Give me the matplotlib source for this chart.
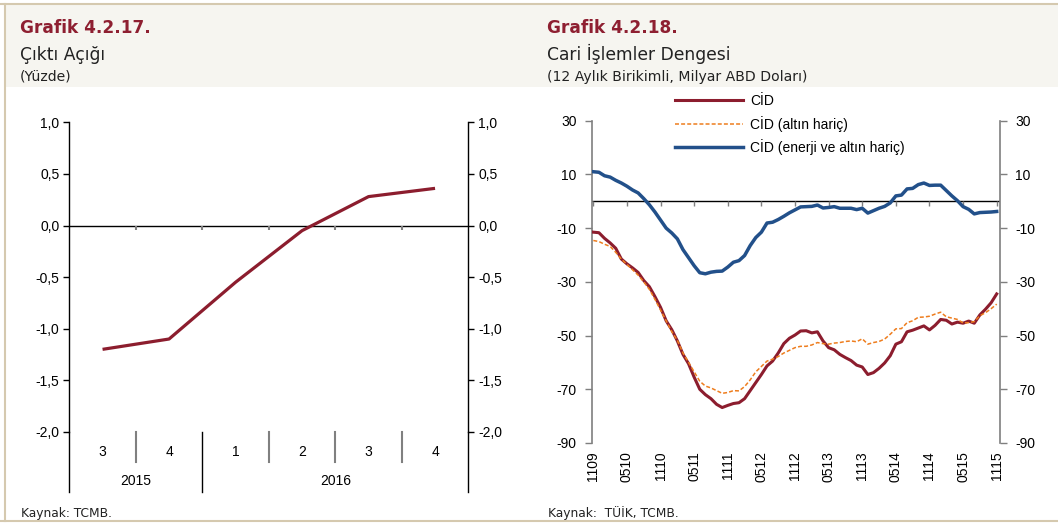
import numpy as np
import matplotlib
matplotlib.use('Agg')
import matplotlib.pyplot as plt
import matplotlib.transforms as mtransforms
from matplotlib.patches import Rectangle
from matplotlib.lines import Line2D

# --- data -------------------------------------------------------------
quarters = ['3', '4', '1', '2', '3', '4']
years = ['2015', '2016']
year_spans = [(0, 1), (2, 5)]
output_gap = [-1.2, -1.1, -0.55, -0.05, 0.28, 0.36]

month_labels = ['1109', '0510', '1110', '0511', '1111', '0512', '1112',
                '0513', '1113', '0514', '1114', '0515', '1115']

cid = [-11.5, -11.7, -13.8, -15.5, -17.5, -21.5, -23.3, -24.8, -26.5, -29.5,
       -31.8, -35.5, -39.5, -44.5, -47.8, -52.0, -57.0, -60.5, -65.5, -70.0,
       -72.0, -73.5, -75.6, -76.8, -76.0, -75.3, -75.0, -73.5, -70.5, -67.5,
       -64.5, -61.3, -59.5, -56.5, -53.0, -51.0, -49.8, -48.3, -48.2, -49.0,
       -48.6, -52.0, -54.5, -55.3, -57.0, -58.2, -59.3, -61.0, -61.7, -64.5,
       -63.8, -62.2, -60.2, -57.5, -53.2, -52.3, -48.6, -48.0, -47.2, -46.4,
       -47.9, -46.2, -44.0, -44.3, -45.7, -45.0, -45.4, -44.6, -45.4, -42.3,
       -40.2, -37.8, -34.5]

cid_altin = [-14.6, -15.0, -16.0, -16.8, -19.0, -21.5, -23.5, -25.5, -27.5, -30.0,
             -32.8, -36.5, -40.5, -44.5, -48.5, -51.8, -56.5, -60.0, -63.5, -67.0,
             -68.8, -69.5, -70.5, -71.5, -71.2, -70.5, -70.6, -69.0, -66.5, -63.5,
             -61.5, -59.5, -58.8, -57.8, -56.5, -55.5, -54.5, -54.0, -54.0, -53.5,
             -52.6, -53.0, -53.2, -52.8, -52.6, -52.2, -52.0, -52.3, -51.2, -53.2,
             -52.6, -52.2, -51.3, -49.5, -47.5, -47.4, -45.2, -44.5, -43.2, -43.1,
             -42.8, -42.0, -41.3, -43.0, -43.5, -44.0, -45.3, -45.2, -44.8, -42.6,
             -41.5, -40.0, -38.3]

cid_enerji = [11.0, 10.8, 9.5, 9.0, 7.8, 6.8, 5.6, 4.2, 3.1, 1.0,
              -1.3, -4.0, -7.0, -10.0, -11.8, -14.0, -18.0, -21.0, -24.0, -26.6,
              -27.0, -26.4, -26.1, -26.0, -24.5, -22.7, -22.1, -20.2, -16.5, -13.5,
              -11.5, -8.1, -7.8, -6.8, -5.6, -4.3, -3.2, -2.1, -2.0, -1.9,
              -1.4, -2.5, -2.3, -2.0, -2.6, -2.6, -2.6, -3.1, -2.6, -4.4,
              -3.5, -2.6, -1.9, -0.6, 2.0, 2.3, 4.6, 4.8, 6.2, 6.8,
              5.9, 6.0, 6.0, 4.0, 2.0, 0.2, -2.0, -3.0, -4.7, -4.2,
              -4.1, -4.0, -3.8]

series_labels = ['CİD', 'CİD (altın hariç)', 'CİD (enerji ve altın hariç)']

# --- style -------------------------------------------------------------
W, H = 1058, 525
maroon = '#8C1D2E'
orange = '#EE7D1E'
blue = '#22508A'
title_red = '#8E1F31'
plt.rcParams['font.family'] = ['Liberation Sans', 'DejaVu Sans']
plt.rcParams['axes.unicode_minus'] = False
head_font = ['DejaVu Sans']


def fx(px):
    return px / W


def fy(py):
    return 1 - py / H


fig = plt.figure(figsize=(W / 100, H / 100), dpi=100)
fig.patch.set_facecolor('white')

# header band and frame
fig.patches.append(Rectangle((fx(5), fy(87)), 1, fy(4) - fy(87), transform=fig.transFigure,
                             facecolor='#F6F5F0', edgecolor='none', zorder=0))
frame = '#D5C9AF'
fig.lines.append(Line2D([0, 1], [fy(4), fy(4)], transform=fig.transFigure, color=frame, lw=1.5))
fig.lines.append(Line2D([0, 1], [fy(521), fy(521)], transform=fig.transFigure, color=frame, lw=1.5))
fig.lines.append(Line2D([fx(5), fx(5)], [fy(4), fy(521)], transform=fig.transFigure, color=frame, lw=1.5))

# titles
for x0, num, sub, unit, src in [
        (20, 'Grafik 4.2.17.', 'Çıktı Açığı', '(Yüzde)', 'Kaynak: TCMB.'),
        (547, 'Grafik 4.2.18.', 'Cari İşlemler Dengesi',
         '(12 Aylık Birikimli, Milyar ABD Doları)', 'Kaynak:  TÜİK, TCMB.')]:
    fig.text(fx(x0), fy(33), num, family=head_font, fontweight='bold', fontsize=12.2,
             color=title_red, va='baseline')
    fig.text(fx(x0), fy(60), sub, family=head_font, fontsize=12.3, color='#222222', va='baseline')
    fig.text(fx(x0), fy(81), unit, family=head_font, fontsize=10.1, color='#222222', va='baseline')
    fig.text(fx(x0 + 1), fy(517), src, family=head_font, fontsize=8.8, color='#222222', va='baseline')

# --- left chart: output gap ------------------------------------------------
ax1 = fig.add_axes([fx(69.3), fy(431.9), fx(468.3) - fx(69.3), fy(122.3) - fy(431.9)])
x_q = np.arange(len(quarters))
ax1.plot(x_q, output_gap, color=maroon, lw=2.3, solid_capstyle='butt', zorder=3)
ax1.axhline(0, color='black', lw=1, zorder=2)
ax1.set_xlim(-0.5, len(quarters) - 0.5)
ax1.set_ylim(-2, 1)
yt1 = np.arange(-2, 1.01, 0.5)
ax1.set_yticks(yt1)
ax1.set_yticklabels([f'{v:.1f}'.replace('.', ',') for v in yt1])
ax1.set_xticks([])
ax1.tick_params(axis='y', direction='out', length=4, width=1, labelsize=10, pad=3,
                left=True, right=True, labelleft=True, labelright=True)
for s in ['top', 'bottom']:
    ax1.spines[s].set_visible(False)
for s in ['left', 'right']:
    ax1.spines[s].set_color('black')
    ax1.spines[s].set_linewidth(1)

bounds = x_q[:-1] + 0.5
ax1.vlines(bounds, -0.04, 0, color='#808080', lw=1.5, zorder=2)
tr1 = mtransforms.blended_transform_factory(ax1.transData, ax1.transAxes)
year_edges = [year_spans[0][0] - 0.5] + [sp[1] + 0.5 for sp in year_spans]
for b in bounds:
    if b not in year_edges:
        ax1.plot([b, b], [0, -0.097], transform=tr1, color='#808080', lw=1.5, clip_on=False)
for b in year_edges:
    ax1.plot([b, b], [0, -0.194], transform=tr1, color='black', lw=1, clip_on=False)
for i, q in enumerate(quarters):
    ax1.text(i, -0.065, q, transform=tr1, ha='center', va='center', fontsize=10)
for yr, (a, b) in zip(years, year_spans):
    ax1.text((a + b) / 2, -0.158, yr, transform=tr1, ha='center', va='center', fontsize=10)

# --- right chart: current account ----------------------------------------
ax2 = fig.add_axes([fx(591.7), fy(443), fx(1000) - fx(591.7), fy(120.7) - fy(443)])
months = np.arange(len(cid))
l1, = ax2.plot(months, cid, color=maroon, lw=2.2, zorder=3)
l2, = ax2.plot(months, cid_altin, color=orange, lw=1.1, ls=(0, (2.6, 1.4)), zorder=4)
l3, = ax2.plot(months, cid_enerji, color=blue, lw=2.5, zorder=5)
ax2.axhline(0, color='black', lw=1, zorder=2)
ax2.set_xlim(-0.29, 72.59)
ax2.set_ylim(-90, 30)
ax2.set_yticks(np.arange(-90, 31, 20))
tick_pos = months[::6]
ax2.set_xticks(tick_pos)
ax2.set_xticklabels(month_labels, rotation=90, fontsize=10)
ax2.tick_params(axis='x', length=0, pad=6)
ax2.tick_params(axis='y', direction='out', length=5, width=1, color='#7f7f7f', labelsize=10, pad=6,
                left=True, right=True, labelleft=True, labelright=True)
ax2.vlines(tick_pos, -1.9, 0, color='#7f7f7f', lw=1, zorder=2)
for s in ['top', 'bottom']:
    ax2.spines[s].set_visible(False)
for s in ['left', 'right']:
    ax2.spines[s].set_color('#7f7f7f')
    ax2.spines[s].set_linewidth(1.2)

fig.legend([l1, l2, l3], series_labels, loc='upper left', bbox_to_anchor=(fx(675), fy(94)),
           frameon=False, fontsize=10, handlelength=4.9, handletextpad=0.5,
           labelspacing=0.55, borderpad=0, borderaxespad=0)

fig.savefig('out.png', dpi=100, facecolor='white')
